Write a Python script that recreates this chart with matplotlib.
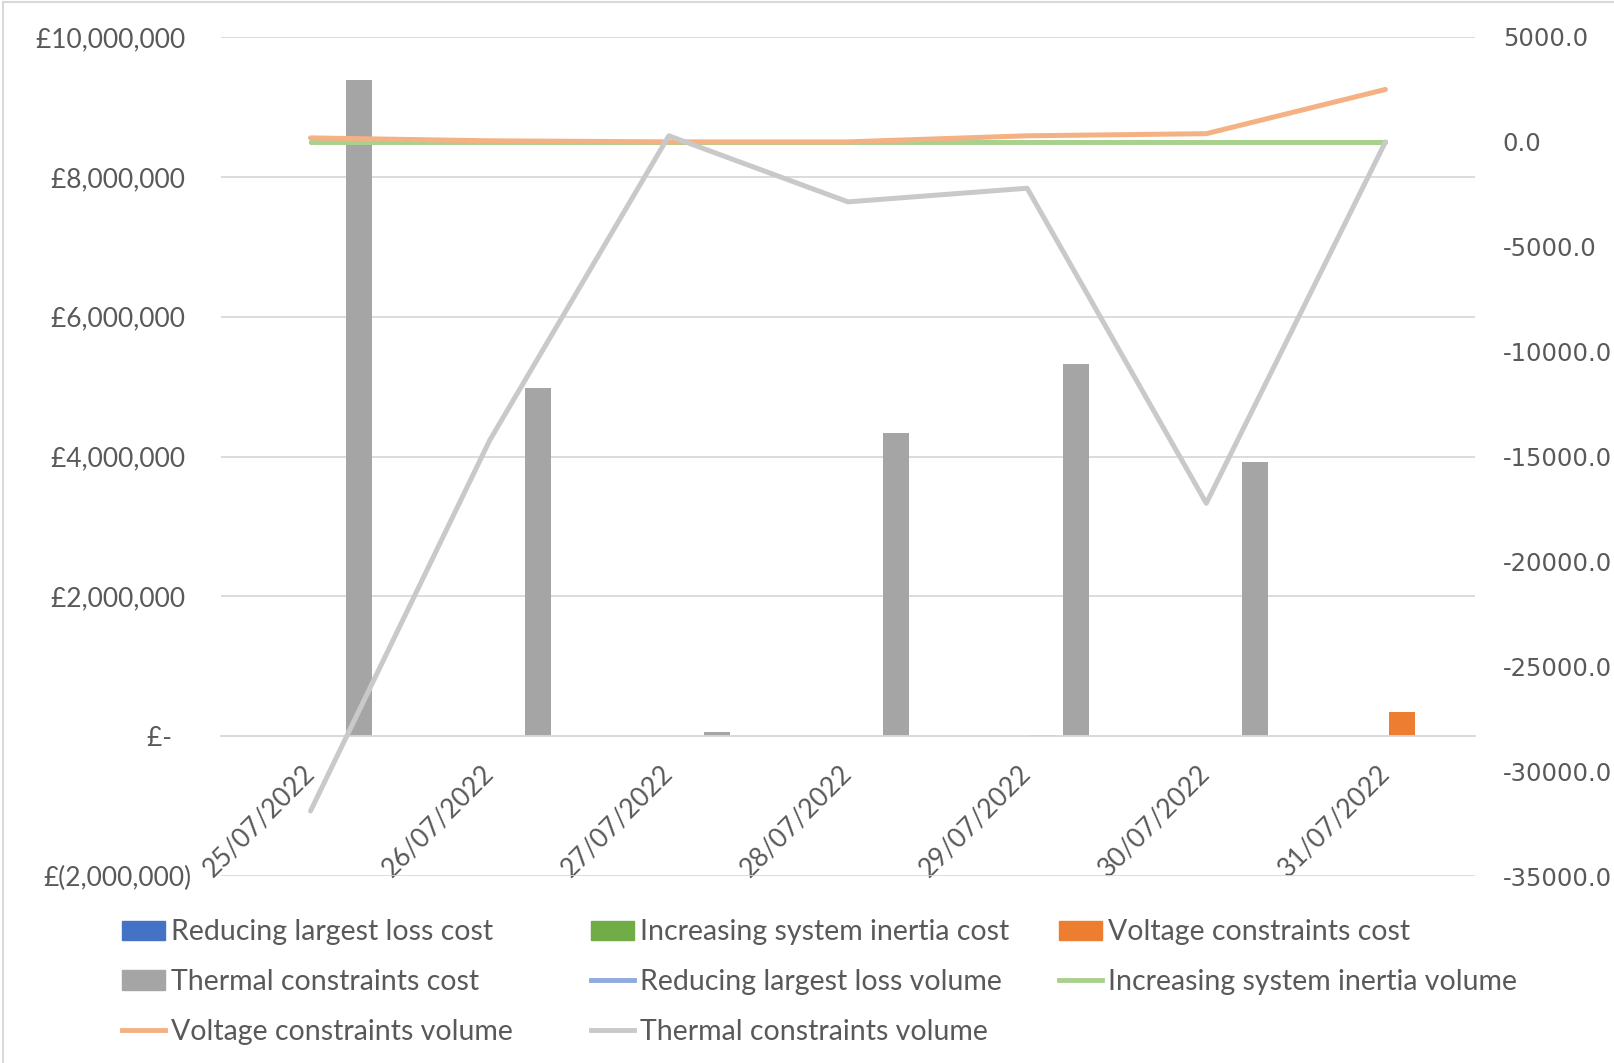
import numpy as np
import matplotlib.pyplot as plt
from matplotlib.lines import Line2D
from matplotlib.patches import Patch

dates = ['25/07/2022', '26/07/2022', '27/07/2022', '28/07/2022',
         '29/07/2022', '30/07/2022', '31/07/2022']

# costs (left axis, £)
rll_cost = [0, 0, 0, 0, 0, 0, 0]
isi_cost = [0, 0, 0, 0, 0, 0, 0]
vc_cost = [0, 0, 0, 0, 15000, 8000, 340000]
tc_cost = [9380000, 4980000, 60000, 4340000, 5330000, 3920000, 0]

# volumes (right axis)
rll_vol = [0, 0, 0, 0, 0, 0, 0]
isi_vol = [0, 0, 0, 0, 0, 0, 0]
vc_vol = [190, 50, 0, 0, 290, 390, 2500]
tc_vol = [-31900, -14230, 290, -2860, -2210, -17230, 0]

left_ticks = [-2000000, 0, 2000000, 4000000, 6000000, 8000000, 10000000]
left_labels = ['£(2,000,000)', '£-   ', '£2,000,000 ', '£4,000,000 ',
               '£6,000,000 ', '£8,000,000 ', '£10,000,000 ']
right_ticks = np.arange(-35000, 5001, 5000)

plt.rcParams['font.family'] = ['Lato', 'DejaVu Sans']
txt = '#595959'
grid = '#d9d9d9'

fig = plt.figure(figsize=(16.14, 10.63), dpi=100)
ax = fig.add_axes([0.1369, 0.1759, 0.777, 0.7893])

x = np.arange(len(dates))
w = 0.145
ax.bar(x - 0.27, rll_cost, w, color='#4472C4')
ax.bar(x - 0.09, isi_cost, w, color='#70AD47')
ax.bar(x + 0.09, vc_cost, w, color='#ED7D31')
ax.bar(x + 0.27, tc_cost, w, color='#A5A5A5')

ax.set_xlim(-0.5, len(dates) - 0.5)
ax.set_ylim(-2000000, 10000000)
ax.set_yticks(left_ticks)
ax.set_yticklabels(left_labels)
ax.yaxis.grid(True, color=grid, lw=1.3)
ax.set_axisbelow(True)
for s in ['left', 'right', 'top']:
    ax.spines[s].set_visible(False)
ax.spines['bottom'].set_position(('data', 0))
ax.spines['bottom'].set_color(grid)
ax.spines['bottom'].set_linewidth(1.3)
ax.tick_params(axis='y', length=0, pad=21, labelsize=19, labelcolor=txt)
ax.tick_params(axis='x', length=0, pad=24, labelsize=19, labelcolor=txt)
ax.set_xticks(x)
ax.set_xticklabels(dates, rotation=45, ha='right', va='center',
                   rotation_mode='anchor')

ax2 = ax.twinx()
lw = 3.6
ax2.plot(x, rll_vol, color='#8FAADC', lw=lw, solid_capstyle='round')
ax2.plot(x, isi_vol, color='#A9D18E', lw=lw, solid_capstyle='round')
ax2.plot(x, vc_vol, color='#F4B183', lw=lw, solid_capstyle='round')
ax2.plot(x, tc_vol, color='#C9C9C9', lw=lw, solid_capstyle='round')
ax2.set_ylim(-35000, 5000)
ax2.set_yticks(right_ticks)
ax2.set_yticklabels(['%.1f' % v for v in right_ticks], family='DejaVu Sans')
ax2.tick_params(axis='y', length=0, pad=20, labelsize=17.5, labelcolor=txt)
for s in ax2.spines.values():
    s.set_visible(False)

# legend, laid out row by row in three fixed columns
cols = [
    [(Patch(color='#4472C4'), 'Reducing largest loss cost'),
     (Patch(color='#A5A5A5'), 'Thermal constraints cost'),
     (Line2D([], [], color='#F4B183', lw=3.5), 'Voltage constraints volume')],
    [(Patch(color='#70AD47'), 'Increasing system inertia cost'),
     (Line2D([], [], color='#8FAADC', lw=3.5), 'Reducing largest loss volume'),
     (Line2D([], [], color='#C9C9C9', lw=3.5), 'Thermal constraints volume')],
    [(Patch(color='#ED7D31'), 'Voltage constraints cost'),
     (Line2D([], [], color='#A9D18E', lw=3.5), 'Increasing system inertia volume')],
]
col_x = [0.0758, 0.3663, 0.6563]
for cx, items in zip(col_x, cols):
    leg = fig.legend([h for h, _ in items], [l for _, l in items],
                     loc='upper left', bbox_to_anchor=(cx, 0.135),
                     frameon=False, fontsize=20.5, handlelength=1.5,
                     handleheight=0.7, handletextpad=0.2, labelspacing=0.84,
                     borderpad=0, borderaxespad=0)
    for t in leg.get_texts():
        t.set_color(txt)

# chart border (left and top edges)
fig.add_artist(Line2D([0.002, 0.002], [0, 0.998], color=grid, lw=1.5))
fig.add_artist(Line2D([0.002, 1], [0.998, 0.998], color=grid, lw=1.5))

fig.savefig('out.png', dpi=100)
